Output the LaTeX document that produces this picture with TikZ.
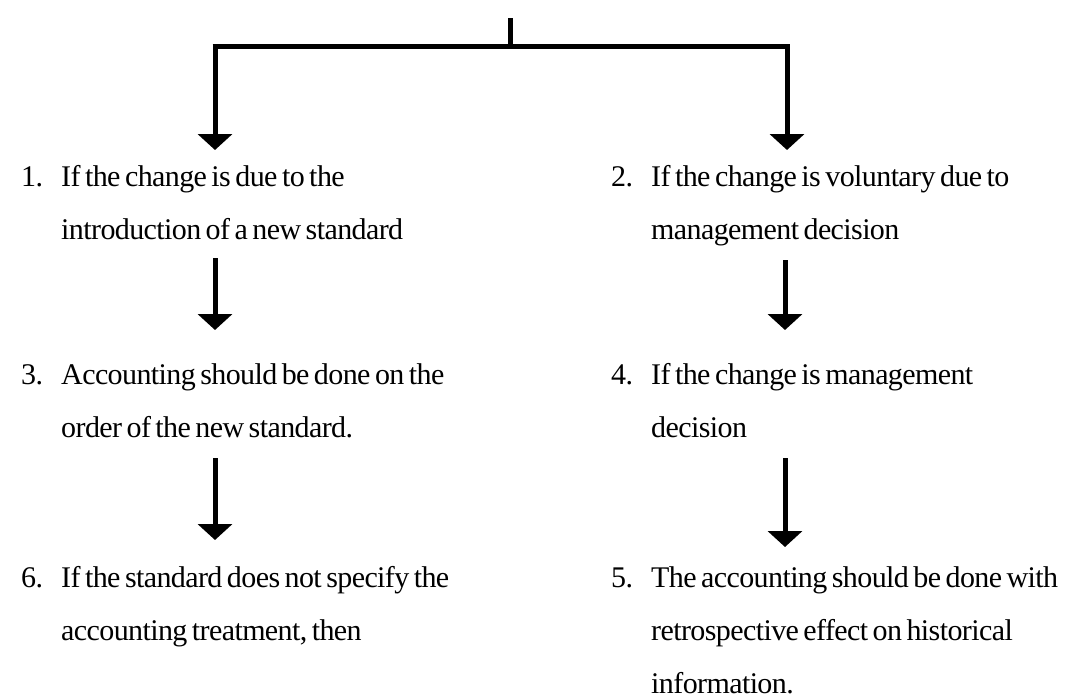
\documentclass[tikz,border=0pt]{standalone}
\usepackage{fontspec}
\setmainfont[LetterSpace=-2]{Liberation Serif}
\usetikzlibrary{arrows.meta}
\newcommand\itemfont{\fontsize{30}{53}\selectfont}
% tight word spacing inside the item texts
\newcommand\tightspaces{\spaceskip=0.15em plus 0.05em\relax\xspaceskip=\spaceskip}
\tikzset{
  wire/.style={line width=5pt, black},
  flow/.style={wire, -{Triangle[width=34pt,length=16pt]}},
  num/.style={anchor=base west, inner sep=0pt, font=\itemfont},
  body/.style={anchor=base west, inner sep=0pt, font=\itemfont, align=flush left,
    text width=430pt, execute at begin node=\tightspaces},
}
\begin{document}
\begin{tikzpicture}[x=1pt, y=-1pt]
  \useasboundingbox (0,0) rectangle (1076,699);

  % items, left column
  \node[num]  (n1) at (21,186) {1.};
  \node[body] (t1) at (61,186) {If the change is due to the\\introduction of a new standard};
  \node[num]  (n3) at (21,384) {3.};
  \node[body] (t3) at (61,384) {Accounting should be done on the\\order of the new standard.};
  \node[num]  (n6) at (21,587) {6.};
  \node[body] (t6) at (61,587) {If the standard does not specify the\\accounting treatment, then};

  % items, right column
  \node[num]  (n2) at (611,186) {2.};
  \node[body] (t2) at (651,186) {If the change is voluntary due to\\management decision};
  \node[num]  (n4) at (611,384) {4.};
  \node[body] (t4) at (651,384) {If the change is management\\decision};
  \node[num]  (n5) at (611,587) {5.};
  \node[body] (t5) at (651,587) {The accounting should be done with\\retrospective effect on historical\\information.};

  % branching bracket at the top
  \coordinate (root) at (510,18);
  \coordinate (hub)  at (510,46);
  \coordinate (bl)   at (215,46);
  \coordinate (br)   at (787,46);
  \coordinate (blx)  at (212.5,46);
  \coordinate (brx)  at (789.5,46);
  \draw[wire] (root) -- (hub);
  \draw[wire] (blx) -- (brx);

  % connector end points
  \coordinate (a1) at (215,150);
  \coordinate (a2) at (787,150);
  \coordinate (b1s) at (215,258);
  \coordinate (b1e) at (215,330);
  \coordinate (b2s) at (785,260);
  \coordinate (b2e) at (785,330);
  \coordinate (c1s) at (215,458);
  \coordinate (c1e) at (215,540);
  \coordinate (c2s) at (785,458);
  \coordinate (c2e) at (785,547);

  \draw[flow] (bl) -- (a1);
  \draw[flow] (br) -- (a2);
  \draw[flow] (b1s) -- (b1e);
  \draw[flow] (b2s) -- (b2e);
  \draw[flow] (c1s) -- (c1e);
  \draw[flow] (c2s) -- (c2e);
\end{tikzpicture}
\end{document}
